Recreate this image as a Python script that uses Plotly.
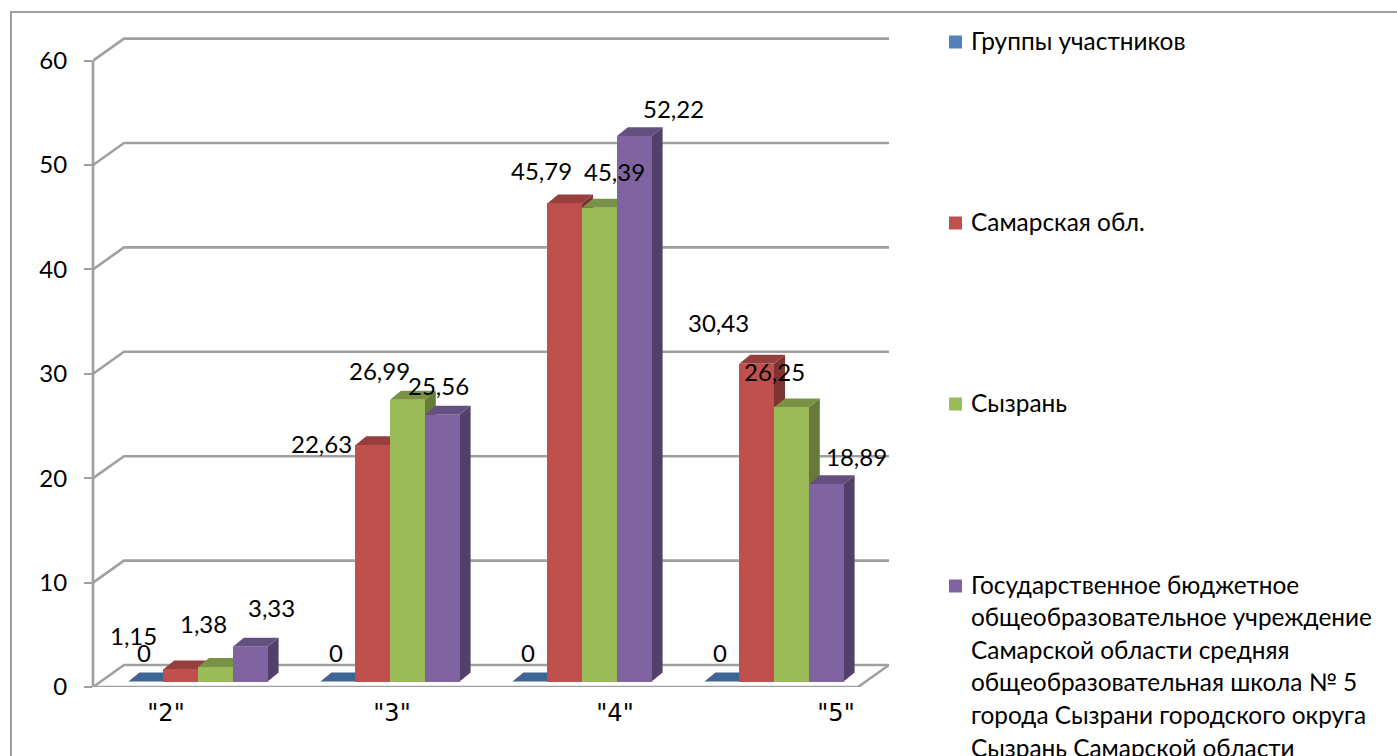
import plotly.graph_objects as go

# ---------- data ----------
categories = ['"2"', '"3"', '"4"', '"5"']
uchastniki = [0, 0, 0, 0]
samara = [1.15, 22.63, 45.79, 30.43]
syzran = [1.38, 26.99, 45.39, 26.25]
school = [3.33, 25.56, 52.22, 18.89]
y_ticks = [0, 10, 20, 30, 40, 50, 60]
legend_lines = [
    ["Группы участников"],
    ["Самарская обл."],
    ["Сызрань"],
    ["Государственное бюджетное",
     "общеобразовательное учреждение",
     "Самарской области средняя",
     "общеобразовательная школа № 5",
     "города Сызрани городского округа",
     "Сызрань Самарской области"],
]

# ---------- styling / layout constants ----------
W, H = 1397, 756
L, R, T, B = 93, 889, 30, 687          # plot area in page pixels
PX_PER_GROUP = 192.0
PX_PER_UNIT = 10.44
BAR_PX = 34.8
FONT = "Lato"
GRID = "#A0A0A0"
TEXT = "#000000"
front = ["#4F81BD", "#C0504D", "#9BBB59", "#8064A2"]
top = ["#3E6593", "#963F3D", "#7A9246", "#654F80"]
side = ["#35557C", "#7F3432", "#667B3A", "#524068"]

X0_PX = 128.4
ux = lambda px: px / PX_PER_GROUP      # pixel distance -> x units
uy = lambda px: px / PX_PER_UNIT       # pixel distance -> y units
x_min = ux(L - X0_PX)
x_max = ux(R - X0_PX)
y_max = uy(B - T)
w = ux(BAR_PX)
FLOOR = uy(5.5)                         # bars stand slightly behind the axis plane
wall_dx, wall_dy = ux(31), uy(22)
bar_dx, bar_dy = ux(11), uy(9)

series = [uchastniki, samara, syzran, school]
names = [l[0] for l in legend_lines[:3]] + [" ".join(legend_lines[3])]

# label offsets from the bar top (pixels), per series then per group
label_dx = [[-2, -2, -2, -2], [-47, -51, -23, -38], [-12, -28, 15, -17], [21, -4, 39, 30]]
label_dy = [[-29, -29, -29, -29], [-34, -2, -33, -41], [-44, -29, -36, -36], [-39, -29, -28, -28]]
cat_tick_pos = [ux(37.6), ux(263.6), ux(486.6), ux(707.6)]

fig = go.Figure()

# walls / gridlines
for v in y_ticks:
    fig.add_trace(go.Scatter(
        x=[x_min, x_min + wall_dx, x_max], y=[v, v + wall_dy, v + wall_dy],
        mode="lines", line=dict(color=GRID, width=2.6), hoverinfo="skip",
        showlegend=False, cliponaxis=False, zorder=-3))
fig.add_trace(go.Scatter(
    x=[x_max - wall_dx, x_max], y=[0, wall_dy],
    mode="lines", line=dict(color=GRID, width=2.6), hoverinfo="skip",
    showlegend=False, cliponaxis=False, zorder=-2))

# bars: top and side faces first, then the front face
for s, vals in enumerate(series):
    xs = [i + s * w for i in range(len(vals))]
    for i, (xl, v) in enumerate(zip(xs, vals)):
        ytop = FLOOR + v
        fig.add_trace(go.Scatter(
            x=[xl, xl + bar_dx, xl + w + bar_dx, xl + w, xl],
            y=[ytop, ytop + bar_dy, ytop + bar_dy, ytop, ytop],
            fill="toself", fillcolor=top[s], mode="none",
            hoverinfo="skip", showlegend=False, zorder=2 * s))
        if v > 0:
            fig.add_trace(go.Scatter(
                x=[xl + w, xl + w + bar_dx, xl + w + bar_dx, xl + w, xl + w],
                y=[FLOOR, FLOOR + bar_dy, ytop + bar_dy, ytop, FLOOR],
                fill="toself", fillcolor=side[s], mode="none",
                hoverinfo="skip", showlegend=False, zorder=2 * s))
    fig.add_trace(go.Bar(
        x=[xl + w / 2 for xl in xs], y=vals, base=FLOOR, width=w, name=names[s],
        marker=dict(color=front[s], line=dict(width=0)),
        showlegend=False, zorder=2 * s + 1))

annotations = []
for s, vals in enumerate(series):
    for i, v in enumerate(vals):
        annotations.append(dict(
            x=i + (s + 0.5) * w, y=FLOOR + v, xref="x", yref="y",
            text=str(v).replace(".", ","), showarrow=False,
            xanchor="center", yanchor="middle",
            xshift=label_dx[s][i], yshift=-label_dy[s][i],
            font=dict(family=FONT, size=24, color=TEXT)))

px_x = lambda px: (px - L) / (R - L)
px_y = lambda py: (B - py) / (B - T)

shapes = [
    dict(type="line", xref="paper", yref="paper", x0=px_x(11), x1=px_x(11),
         y0=px_y(11), y1=px_y(H + 5), line=dict(color="#A0A0A0", width=2)),
    dict(type="line", xref="paper", yref="paper", x0=px_x(10), x1=px_x(W + 5),
         y0=px_y(12), y1=px_y(12), line=dict(color="#A0A0A0", width=2)),
    # vertical axis and front floor edge
    dict(type="line", xref="paper", yref="y", x0=0, x1=0, y0=y_ticks[0], y1=y_ticks[-1],
         line=dict(color=GRID, width=2.6), layer="below"),
    dict(type="line", xref="x", yref="y", x0=x_min, x1=x_max - wall_dx, y0=0, y1=0,
         line=dict(color=GRID, width=2.6), layer="below"),
]

legend_y = [40, 221, 402, 584]
LINE_STEP = 32.6
for k, lines in enumerate(legend_lines):
    cy = legend_y[k]
    shapes.append(dict(type="rect", xref="paper", yref="paper",
                       x0=px_x(949), x1=px_x(962), y0=px_y(cy - 4.5), y1=px_y(cy + 8.5),
                       fillcolor=front[k], line=dict(width=0)))
    for n, line in enumerate(lines):
        annotations.append(dict(
            x=px_x(969), y=px_y(cy + n * LINE_STEP), xref="paper", yref="paper",
            text=line, showarrow=False, xanchor="left", yanchor="middle",
            font=dict(family=FONT, size=24.4, color=TEXT)))

fig.update_layout(
    width=W, height=H, autosize=False,
    margin=dict(l=L, r=W - R, t=T, b=H - B, pad=0),
    paper_bgcolor="white", plot_bgcolor="white",
    barmode="overlay", bargap=0, showlegend=False,
    annotations=annotations, shapes=shapes,
    xaxis=dict(range=[x_min, x_max], tickmode="array", tickvals=cat_tick_pos,
               ticktext=categories, showgrid=False, zeroline=False, showline=False,
               ticks="", ticklabelstandoff=9, automargin=False,
               tickfont=dict(family="DejaVu Sans", size=24, color=TEXT)),
    yaxis=dict(range=[0, y_max], tickmode="array", tickvals=y_ticks,
               ticktext=[str(t) for t in y_ticks], showgrid=False, zeroline=False,
               showline=False, ticks="outside", ticklen=8, tickwidth=2, tickcolor=GRID,
               ticklabelstandoff=12, automargin=False,
               tickfont=dict(family=FONT, size=24, color=TEXT)),
)

fig.write_html("out.html", config={"displayModeBar": False},
               post_script="document.body.style.margin='0';document.body.style.overflow='hidden';")
